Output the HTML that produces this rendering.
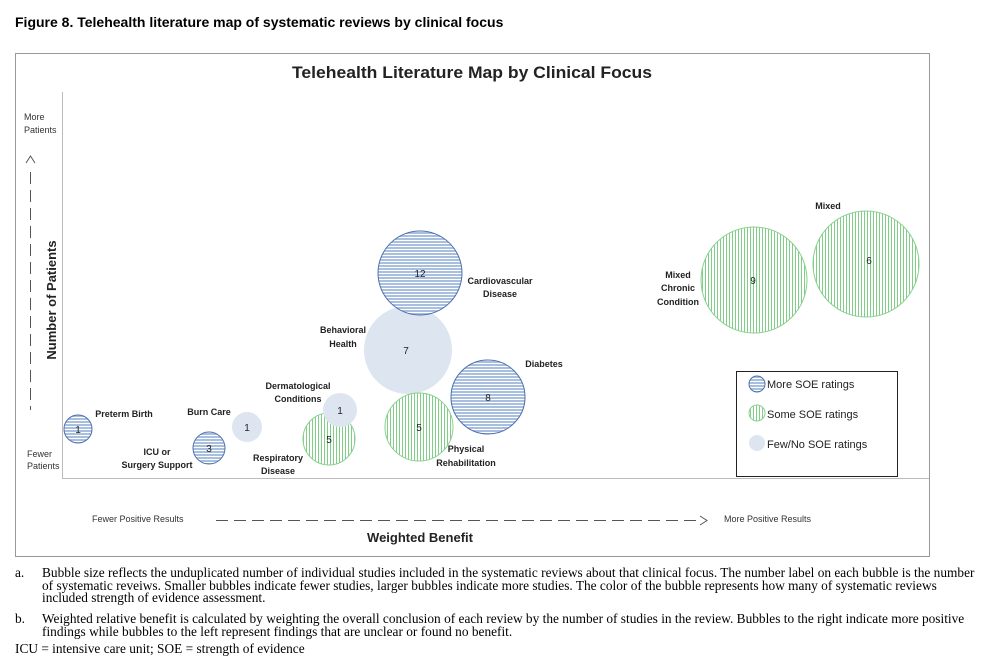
<!DOCTYPE html><html><head><style>body{margin:0;background:#fff;width:999px;height:658px;overflow:hidden;font-family:"Liberation Sans",sans-serif}
.fn{position:absolute;font-family:"Liberation Serif",serif;font-size:13.35px;color:#000;line-height:12.5px;white-space:nowrap}
</style></head><body>
<div style="position:absolute;left:15px;top:14px;font-weight:bold;font-size:14px">Figure 8. Telehealth literature map of systematic reviews by clinical focus</div>
<svg width="999" height="658" style="position:absolute;left:0;top:0">
<defs>
<pattern id="h" width="4" height="3" patternUnits="userSpaceOnUse"><rect width="4" height="3" fill="#a9bfe0"/><rect width="4" height="1" fill="#fff"/></pattern>
<pattern id="v" width="3" height="4" patternUnits="userSpaceOnUse"><rect width="3" height="4" fill="#fff"/><rect width="1" height="4" fill="#7fcf86"/></pattern>
</defs>
<rect x="15.5" y="53.5" width="914" height="503" fill="#fff" stroke="#999"/>
<text x="472" y="78" font-size="17" font-weight="bold" text-anchor="middle" fill="#222" textLength="360" lengthAdjust="spacingAndGlyphs">Telehealth Literature Map by Clinical Focus</text>
<line x1="62.5" y1="92" x2="62.5" y2="478" stroke="#bbb"/>
<line x1="62" y1="478.5" x2="929" y2="478.5" stroke="#bbb"/>
<g font-size="9" fill="#333"><text x="24" y="120">More</text><text x="24" y="133">Patients</text><text x="27" y="457">Fewer</text><text x="27" y="469">Patients</text>
<text x="92" y="522">Fewer Positive Results</text><text x="724" y="522">More Positive Results</text></g>
<line x1="30.5" y1="172" x2="30.5" y2="410" stroke="#555" stroke-dasharray="12,6"/>
<path d="M26 163 L30.5 156 L35 163" fill="none" stroke="#555"/>
<line x1="216" y1="520.5" x2="700" y2="520.5" stroke="#555" stroke-dasharray="12,6"/>
<path d="M700 516 L707 520.5 L700 525" fill="none" stroke="#555"/>
<text x="0" y="0" font-size="13" font-weight="bold" fill="#222" transform="translate(56,300) rotate(-90)" text-anchor="middle">Number of Patients</text>
<text x="420" y="542" font-size="13" font-weight="bold" fill="#222" text-anchor="middle">Weighted Benefit</text>
<g stroke-width="1">
<circle cx="408" cy="350" r="44" fill="#dde5f1"/>
<circle cx="420" cy="273" r="42" fill="url(#h)" stroke="#4d6fae"/>
<circle cx="488" cy="397" r="37" fill="url(#h)" stroke="#4d6fae"/>
<circle cx="419" cy="427" r="34" fill="url(#v)" stroke="#8ad08f"/>
<circle cx="329" cy="439" r="26" fill="url(#v)" stroke="#8ad08f"/>
<circle cx="340" cy="410" r="17" fill="#dde5f1"/>
<circle cx="247" cy="427" r="15" fill="#dde5f1"/>
<circle cx="209" cy="448" r="16" fill="url(#h)" stroke="#4d6fae"/>
<circle cx="78" cy="429" r="14" fill="url(#h)" stroke="#4d6fae"/>
<circle cx="754" cy="280" r="53" fill="url(#v)" stroke="#8ad08f"/>
<circle cx="866" cy="264" r="53" fill="url(#v)" stroke="#8ad08f"/>
</g>
<g font-size="10" fill="#222" text-anchor="middle">
<text x="78" y="433">1</text><text x="209" y="452">3</text><text x="247" y="431">1</text><text x="329" y="443">5</text><text x="340" y="414">1</text><text x="419" y="431">5</text><text x="406" y="354">7</text><text x="420" y="277">12</text><text x="488" y="401">8</text><text x="753" y="284">9</text><text x="869" y="264">6</text>
</g>
<g font-size="9" font-weight="bold" fill="#222" text-anchor="middle">
<text x="124" y="417">Preterm Birth</text>
<text x="209" y="415">Burn Care</text>
<text x="157" y="455">ICU or</text><text x="157" y="468">Surgery Support</text>
<text x="278" y="461">Respiratory</text><text x="278" y="474">Disease</text>
<text x="298" y="389">Dermatological</text><text x="298" y="402">Conditions</text>
<text x="343" y="333">Behavioral</text><text x="343" y="347">Health</text>
<text x="500" y="284">Cardiovascular</text><text x="500" y="297">Disease</text>
<text x="544" y="367">Diabetes</text>
<text x="466" y="452">Physical</text><text x="466" y="466">Rehabilitation</text>
<text x="678" y="278">Mixed</text><text x="678" y="291">Chronic</text><text x="678" y="305">Condition</text>
<text x="828" y="209">Mixed</text>
</g>
<rect x="736.5" y="371.5" width="161" height="105" fill="#fff" stroke="#222"/>
<circle cx="757" cy="384" r="8" fill="url(#h)" stroke="#4d6fae"/>
<circle cx="757" cy="413" r="8" fill="url(#v)" stroke="#8ad08f"/>
<circle cx="757" cy="443" r="8" fill="#dde5f1"/>
<g font-size="11" fill="#222"><text x="767" y="388">More SOE ratings</text><text x="767" y="418">Some SOE ratings</text><text x="767" y="448">Few/No SOE ratings</text></g>
</svg>
<div class="fn" style="left:15px;top:567px">a.</div>
<div class="fn" style="left:42px;top:567px">Bubble size reflects the unduplicated number of individual studies included in the systematic reviews about that clinical focus. The number label on each bubble is the number<br>of systematic reveiws. Smaller bubbles indicate fewer studies, larger bubbles indicate more studies. The color of the bubble represents how many of systematic reviews<br>included strength of evidence assessment.</div>
<div class="fn" style="left:15px;top:613px">b.</div>
<div class="fn" style="left:42px;top:613px">Weighted relative benefit is calculated by weighting the overall conclusion of each review by the number of studies in the review. Bubbles to the right indicate more positive<br>findings while bubbles to the left represent findings that are unclear or found no benefit.</div>
<div class="fn" style="left:15px;top:643px">ICU = intensive care unit; SOE = strength of evidence</div>
</body></html>
